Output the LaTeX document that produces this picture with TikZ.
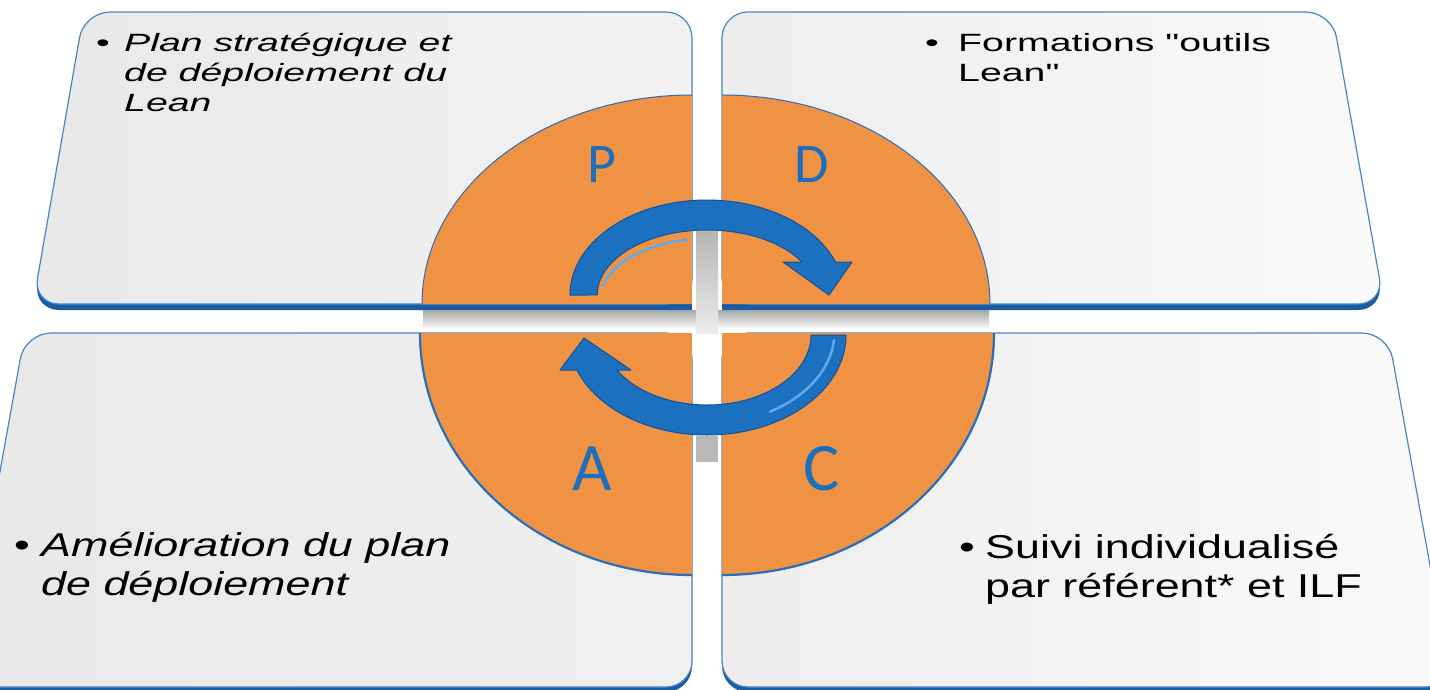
\documentclass[tikz,border=0pt]{standalone}
\usepackage{fontspec}
\setmainfont{Liberation Sans}
\newfontfamily\farfont[FakeStretch=1.57]{Liberation Sans}
\newfontfamily\nearfont[FakeStretch=1.36]{Liberation Sans}
\newfontfamily\pdcafont{Carlito}
\usepackage{tikz}
\pgfdeclarelayer{bg}
\pgfsetlayers{bg,main}
\definecolor{quadorange}{RGB}{239,146,67}
\definecolor{quadline}{RGB}{40,110,185}
\definecolor{panelline}{RGB}{72,133,196}
\definecolor{panelband}{RGB}{25,92,162}
\definecolor{arrowblue}{RGB}{28,112,192}
\definecolor{arrowedge}{RGB}{18,82,150}
\definecolor{arrowlight}{RGB}{95,170,232}
\definecolor{letterblue}{RGB}{30,110,190}

\begin{document}
\begin{tikzpicture}[x=1pt, y=-1pt,
    panel/.style={draw=panelline, line width=1.2pt, rounded corners=26pt},
    band/.style={fill=panelband, rounded corners=26pt},
    quad/.style={fill=quadorange},
    quadedge/.style={draw=quadline, line width=1pt},
    letter/.style={text=letterblue, inner sep=0pt},
    cyclearrow/.style={fill=arrowblue, draw=arrowedge, line width=1pt, line join=round},
    bevel/.style={draw=arrowlight, line width=2.5pt, line cap=round},
    bul/.style={inner sep=0pt, anchor=base},
    farbody/.style={align=left, inner sep=0pt, anchor=north west, font=\farfont\fontsize{25}{30}\selectfont},
    nearbody/.style={align=left, inner sep=0pt, anchor=north west, font=\nearfont\fontsize{33}{39}\selectfont}]
    \useasboundingbox (0,0) rectangle (1430,689);

    \node (letterP) [letter, font=\pdcafont\fontsize{56}{56}\selectfont] at (602,165) {P};
    \node (letterD) [letter, font=\pdcafont\fontsize{56}{56}\selectfont] at (812,165) {D};
    \node (letterA) [letter, font=\pdcafont\fontsize{68}{68}\selectfont] at (592,469) {A};
    \node (letterC) [letter, font=\pdcafont\fontsize{68}{68}\selectfont] at (822,469) {C};

    \node (planbullet) [bul, font=\farfont\fontsize{25}{30}\selectfont] at (103,51) {•};
    \node (plantext) [farbody, font=\farfont\itshape\fontsize{25}{30}\selectfont] at (124,33) {Plan stratégique et\\de déploiement du\\Lean};
    \node (dobullet) [bul, font=\farfont\fontsize{25}{30}\selectfont] at (932,51) {•};
    \node (dotext) [farbody] at (958,33) {Formations "outils\\Lean"};
    \node (actbullet) [bul, font=\nearfont\fontsize{33}{39}\selectfont] at (22,556) {•};
    \node (acttext) [nearbody, font=\nearfont\itshape\fontsize{33}{39}\selectfont] at (41,532) {Amélioration du plan\\de déploiement};
    \node (checkbullet) [bul, font=\nearfont\fontsize{33}{39}\selectfont] at (967,558) {•};
    \node (checktext) [nearbody] at (985,534) {Suivi individualisé\\par référent* et ILF};

    \begin{pgfonlayer}{bg}
        % panels
        \fill[band, shift={(0,6)}] (388,12) -- (692,12) -- (692,304) -- (33,304) -- (84,12) -- cycle;
        \fill[panelband] (660,284) rectangle (692,310);
        \fill[band, shift={(0,6)}] (1027,12) -- (1332,12) -- (1384,304) -- (722,304) -- (722,12) -- cycle;
        \fill[panelband] (722,284) rectangle (754,310);
        \fill[band, shift={(0,5)}] (358,333) -- (692,333) -- (692,687) -- (-39,687) -- (25,333) -- cycle;
        \fill[band, shift={(0,5)}] (1055,333) -- (1388,333) -- (1452,687) -- (722,687) -- (722,333) -- cycle;

        \fill[top color=black!35, bottom color=black!4] (423,310) rectangle (989,327);
        \fill[top color=black!30, bottom color=black!8] (696,226) rectangle (718,333);
        \fill[black!28] (696,436) rectangle (718,462);

        \path[panel, left color=black!9, right color=black!5] (388,12) -- (692,12) -- (692,304) -- (33,304) -- (84,12) -- cycle;
        \path[panel, left color=black!7, right color=black!2] (1027,12) -- (1332,12) -- (1384,304) -- (722,304) -- (722,12) -- cycle;
        \path[panel, left color=black!9, right color=black!6] (358,333) -- (692,333) -- (692,687) -- (-39,687) -- (25,333) -- cycle;
        \path[panel, left color=black!7, right color=black!2] (1055,333) -- (1388,333) -- (1452,687) -- (722,687) -- (722,333) -- cycle;

        % quadrants
        \fill[quad] (692,304) -- (422,304) arc[start angle=180, end angle=270, x radius=270, y radius=209] -- cycle;
        \fill[quad] (722,304) -- (990,304) arc[start angle=0, end angle=-90, x radius=268, y radius=209] -- cycle;
        \fill[quad] (692,333) -- (420,333) arc[start angle=180, end angle=90, x radius=272, y radius=242] -- cycle;
        \fill[quad] (722,333) -- (994,333) arc[start angle=0, end angle=90, x radius=272, y radius=242] -- cycle;
        \draw[quadedge] (422,304) arc[start angle=180, end angle=270, x radius=270, y radius=209];
        \draw[quadedge] (990,304) arc[start angle=0, end angle=-90, x radius=268, y radius=209];
        \draw[quadedge, line width=2.2pt] (420,333) arc[start angle=180, end angle=90, x radius=272, y radius=242];
        \draw[quadedge, line width=2.2pt] (994,333) arc[start angle=0, end angle=90, x radius=272, y radius=242];

        % cycle arrows
        \draw[cyclearrow] (570,295) arc[start angle=180, end angle=339.7, x radius=137, y radius=95] -- (852,262) -- (829,295) -- (783,262) -- (802,262) arc[start angle=329.5, end angle=180, x radius=110, y radius=65] -- cycle;
        \draw[bevel] (603,285) arc[start angle=195, end angle=260, x radius=106, y radius=62];
        \draw[cyclearrow] (846,335) arc[start angle=0, end angle=159.5, x radius=139, y radius=100] -- (560,370) -- (584,338) -- (631,370) -- (617,370) arc[start angle=150, end angle=0, x radius=104, y radius=70] -- cycle;
        \draw[bevel] (834,340) arc[start angle=5, end angle=60, x radius=129, y radius=92];
    \end{pgfonlayer}
\end{tikzpicture}
\end{document}
